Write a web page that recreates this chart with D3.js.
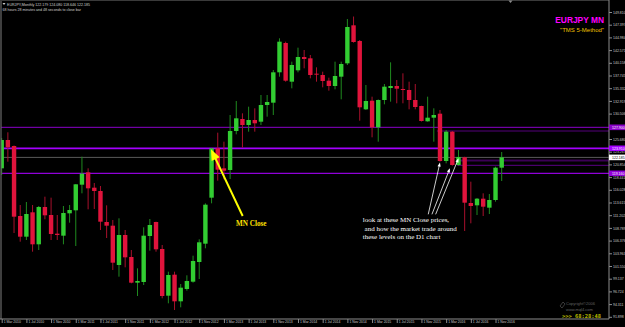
<!DOCTYPE html>
<html><head><meta charset="utf-8">
<script src="https://cdn.jsdelivr.net/npm/d3@7"></script>
<style>html,body{margin:0;padding:0;background:#000;overflow:hidden}svg{display:block}</style>
</head><body>
<svg id="c" width="625" height="327"></svg>
<script>
// ---------------- DATA ----------------
const months = d3.utcMonths(new Date(Date.UTC(2010,2,1)), new Date(Date.UTC(2017,0,1)));
const monthKeys = months.map(d => d3.utcFormat("%b %Y")(d));

const open = [120.11,125.49,124.35,111.05,107.12,111.75,105.67,112.76,111.24,107.69,
107.31,111.56,112.13,117.00,119.35,116.43,115.80,109.91,109.21,101.74,
107.44,103.26,98.38,98.51,107.25,109.91,104.78,95.91,99.90,94.84,
97.18,98.57,102.31,105.79,114.53,123.91,120.11,119.79,127.20,129.48,
128.34,129.29,128.97,132.14,132.58,138.35,143.92,136.57,138.73,141.26,
141.01,138.09,137.84,136.76,135.75,137.52,140.06,147.28,144.30,131.32,
132.96,127.90,133.09,135.37,135.75,135.18,134.99,133.09,131.95,129.04,
129.73,130.49,121.50,127.07,120.74,122.20,113.52,113.08,114.34,112.63,
114.09,120.23];
const high = [125.87,126.95,124.45,113.14,113.71,113.14,112.95,114.72,114.53,111.24,
112.95,113.14,117.13,122.32,120.11,117.32,116.75,113.08,110.29,110.61,
108.39,104.59,101.11,108.90,110.48,109.97,105.54,100.47,100.47,98.13,
99.78,103.51,106.62,113.46,123.97,126.88,125.17,130.24,132.90,130.56,
131.82,131.51,134.04,134.04,138.79,144.81,144.17,140.37,143.03,142.59,
141.64,139.30,138.47,137.33,140.37,140.37,148.48,148.95,144.49,135.94,
133.72,133.20,136.13,140.25,136.89,138.16,136.57,136.13,132.00,133.72,
131.51,131.19,127.39,127.20,123.59,122.30,117.57,114.47,115.36,115.23,
120.42,123.21];
const low = [118.84,121.37,107.82,106.17,106.49,104.27,104.59,110.42,106.49,106.49,
105.67,109.78,105.35,115.36,112.32,112.38,108.39,106.87,100.79,99.52,
101.30,98.26,95.85,97.94,104.46,104.27,95.41,94.46,93.19,93.70,
96.86,98.38,99.08,104.91,113.46,117.76,118.02,118.08,126.57,124.03,
127.07,127.07,128.34,129.92,130.24,137.52,136.57,135.31,138.35,139.11,
137.21,136.57,135.50,134.86,135.12,133.22,139.74,143.98,129.16,131.20,
126.00,125.17,132.27,132.77,132.46,132.46,131.32,131.32,129.00,128.97,
125.17,121.37,121.06,120.61,120.60,108.20,109.66,111.24,111.05,111.43,
113.77,117.70];
const close = [125.49,124.10,110.92,107.12,111.43,105.67,112.76,111.18,107.63,107.44,
111.62,112.19,117.07,119.09,116.31,115.80,109.97,109.21,102.18,107.44,
103.20,98.38,98.70,107.31,109.34,104.72,95.85,99.84,94.84,97.43,
98.70,102.50,106.05,113.20,123.91,119.85,119.66,127.20,129.61,128.34,
129.29,128.66,132.14,132.71,138.35,144.17,136.76,139.74,141.26,140.88,
137.84,137.90,136.70,135.75,137.65,139.93,146.96,144.11,131.70,132.90,
127.90,133.09,135.62,135.75,135.24,135.05,133.09,131.76,129.10,129.73,
130.24,121.50,127.07,120.74,122.26,113.58,112.95,114.34,112.82,114.09,
120.23,122.19];

const priceTicks = [149.810,147.397,144.984,142.571,140.158,137.745,135.332,132.919,130.506,128.093,
125.680,123.267,120.854,118.441,116.028,113.615,111.202,108.789,106.376,103.963,
101.550,99.137,96.724,94.311,91.898];
const dateTicks = monthKeys.filter((d,i) => i % 4 === 0);

const levelValues = [127.900, 123.910, 119.160];      // MN close levels (purple)
const bidPrice = 122.185;                              // current price line
const shortLevels = [127.200, 121.590, 120.680];
const shortLevelStart = [70.5, 73.8, 73.8];            // month index where they start

const headerLine1 = "EURJPY,Monthly  122.179 124.080 118.646 122.185";
const headerLine2 = "68 hours 28 minutes and 48 seconds to close bar";
const noteLines = ["look at these MN Close prices,", " and how the market trade around", "these levels on the D1 chart"];

// ---------------- CHART ----------------
const W = 625, H = 327, plotR = 609, plotB = 319;
const svg = d3.select("#c");
svg.append("rect").attr("width", W).attr("height", H).attr("fill", "#000");

const x = d3.scalePoint().domain(monthKeys).range([1.7, 501.7]);
const xi = d3.scaleLinear().domain([0, monthKeys.length - 1]).range([1.7, 501.7]);
const y = d3.scaleLinear().domain([91.48, 152.09]).range([plotB, 0]);

const candles = monthKeys.map((k, i) => ({k, o: open[i], h: high[i], l: low[i], c: close[i]}));

const clip = svg.append("clipPath").attr("id", "pc").append("rect")
  .attr("x", 1).attr("y", 1).attr("width", plotR - 1).attr("height", plotB - 1);

const plot = svg.append("g").attr("clip-path", "url(#pc)");

// horizontal levels
plot.append("line").attr("x1", 0).attr("x2", plotR)
  .attr("y1", y(bidPrice)).attr("y2", y(bidPrice))
  .attr("stroke", "#5a5a5a").attr("stroke-width", 1);

const shortCols = ["#55007a", "#3a0055", "#5a0085"];
const shortW = [1, 2, 1];
shortLevels.forEach((v, i) => {
  plot.append("line").attr("x1", xi(shortLevelStart[i])).attr("x2", plotR)
    .attr("y1", y(v)).attr("y2", y(v))
    .attr("stroke", shortCols[i]).attr("stroke-width", shortW[i]);
});

const levelCols = ["#8a00c8", "#a400ff", "#9000d8"];
const levelW = [1, 1.8, 1.2];
levelValues.forEach((v, i) => {
  plot.append("line").attr("x1", 0).attr("x2", plotR)
    .attr("y1", y(v)).attr("y2", y(v))
    .attr("stroke", levelCols[i]).attr("stroke-width", levelW[i]);
});

// candles
const bw = 4.4;
const cg = plot.append("g");
cg.selectAll("line.w").data(candles).join("line").attr("class", "w")
  .attr("x1", d => x(d.k)).attr("x2", d => x(d.k))
  .attr("y1", d => y(d.h)).attr("y2", d => y(d.l))
  .attr("stroke", d => d.c >= d.o ? "#1f8a1f" : "#a8102c").attr("stroke-width", 1);
cg.selectAll("rect.b").data(candles).join("rect").attr("class", "b")
  .attr("x", d => x(d.k) - bw / 2).attr("width", bw)
  .attr("y", d => y(Math.max(d.o, d.c)))
  .attr("height", d => Math.max(1, Math.abs(y(d.o) - y(d.c))))
  .attr("fill", d => d.c >= d.o ? "#32cd32" : "#e0143c");

// frame
svg.append("line").attr("x1", 1).attr("x2", 1).attr("y1", 0).attr("y2", plotB).attr("stroke", "#6a6a6a").attr("stroke-width", 1.2);
svg.append("line").attr("x1", 0).attr("x2", plotR).attr("y1", 0.5).attr("y2", 0.5).attr("stroke", "#3a3a3a").attr("stroke-width", 1);

// price axis
const ya = svg.append("g").attr("transform", `translate(${plotR},0)`)
  .call(d3.axisRight(y).tickValues(priceTicks).tickSize(3).tickPadding(1).tickFormat(d3.format(".3f")));
ya.select(".domain").attr("stroke", "#8c8c8c").attr("d", `M0,0V${plotB}`);
ya.selectAll(".tick line").attr("stroke", "#8c8c8c");
ya.selectAll(".tick text").attr("fill", "#c8c8c8").attr("font-size", 3.5)
  .attr("font-family", "Liberation Sans, Arial, sans-serif");

// level labels on axis
function axisLabel(v, bg, fg) {
  const g = svg.append("g").attr("transform", `translate(${plotR},${y(v)})`);
  g.append("rect").attr("x", 0).attr("y", -2.8).attr("width", 16).attr("height", 5.6).attr("fill", bg);
  g.append("text").attr("x", 3).attr("y", 1.3).attr("fill", fg).attr("font-size", 3.5)
    .attr("font-family", "Liberation Sans, Arial, sans-serif").text(d3.format(".3f")(v));
}
levelValues.forEach((v, i) => axisLabel(v, levelCols[i], "#ffffff"));
axisLabel(bidPrice, "#ffffff", "#000000");

// date axis
const xa = svg.append("g").attr("transform", `translate(0,${plotB})`)
  .call(d3.axisBottom(x).tickValues(dateTicks).tickSize(4).tickFormat(k => "1 " + k));
xa.select(".domain").attr("stroke", "#8c8c8c").attr("d", `M0,0H${plotR}`);
xa.selectAll(".tick line").attr("stroke", "#8c8c8c");
xa.selectAll(".tick text").attr("fill", "#c8c8c8").attr("font-size", 3.4)
  .attr("font-family", "Liberation Sans, Arial, sans-serif")
  .attr("text-anchor", "start").attr("x", 1.5).attr("y", 1.6).attr("dy", "0.71em");

// header
const hf = "Liberation Sans, Arial, sans-serif";
svg.append("path").attr("d", "M2.5,3 L5.5,3 L4,5 Z").attr("fill", "#c8c8c8");
svg.append("text").attr("x", 7).attr("y", 5.6).attr("fill", "#d0d0d0").attr("font-size", 3.6).attr("font-family", hf).text(headerLine1);
svg.append("text").attr("x", 2.5).attr("y", 10.6).attr("fill", "#d0d0d0").attr("font-size", 3.6).attr("font-family", hf).text(headerLine2);
svg.append("path").attr("d", "M508.5,0.5 L512.5,0.5 L510.5,3 Z").attr("fill", "#8c8c8c");

// title
svg.append("text").attr("x", 604).attr("y", 23.3).attr("text-anchor", "end").attr("fill", "#ff00ff")
  .attr("font-size", 8.4).attr("font-weight", "bold").attr("font-family", hf).text("EURJPY MN");
svg.append("text").attr("x", 604).attr("y", 32).attr("text-anchor", "end").attr("fill", "#f0c000")
  .attr("font-size", 6).attr("font-family", hf).text("\"TMS 5-Method\"");

// yellow arrow annotation
function arrow(x1, y1, x2, y2, color, w, hl, hw) {
  const dx = x2 - x1, dy = y2 - y1, L = Math.hypot(dx, dy), ux = dx / L, uy = dy / L;
  const bx = x2 - ux * hl, by = y2 - uy * hl;
  svg.append("line").attr("x1", x1).attr("y1", y1).attr("x2", bx + ux * 1).attr("y2", by + uy * 1)
    .attr("stroke", color).attr("stroke-width", w);
  svg.append("path").attr("d", `M${x2},${y2}L${bx - uy * hw},${by + ux * hw}L${bx + uy * hw},${by - ux * hw}Z`).attr("fill", color);
}
arrow(xi(39.04), y(111.05), xi(33.9), y(123.75), "#ffff00", 2, 11, 4.5);
svg.append("text").attr("x", xi(37.95)).attr("y", y(109.2)).attr("fill", "#ffe000")
  .attr("font-size", 7.2).attr("font-weight", "bold").attr("font-family", "Liberation Serif, Times New Roman, serif").text("MN Close");

// white arrows annotation
const tails = [[69.1, 111.37], [69.7, 111.37], [70.3, 111.37]];
const tips = [[71.0, 121.2], [72.6, 120.1], [74.0, 122.0]];
tails.forEach((t, i) => arrow(xi(t[0]), y(t[1]), xi(tips[i][0]), y(tips[i][1]), "#ffffff", 0.8, 4, 1.6));
noteLines.forEach((s, i) => {
  svg.append("text").attr("x", xi(58.5)).attr("y", 222.3 + i * 8.3).attr("fill", "#ffffff")
    .attr("font-size", 7).attr("font-family", "Liberation Serif, Times New Roman, serif")
    .attr("xml:space", "preserve").style("white-space", "pre").text(s);
});

// copyright + timer
svg.append("text").attr("x", 566).attr("y", 304.5).attr("fill", "#606060").attr("font-size", 4).attr("font-family", hf).text("Copyright©2006");
svg.append("text").attr("x", 566).attr("y", 310.5).attr("fill", "#606060").attr("font-size", 4).attr("font-family", hf).text("www.mql4.com");
svg.append("path").attr("d", "M560,306 l3,-4 l2,2 l-3,4 z").attr("fill", "none").attr("stroke", "#606060").attr("stroke-width", 0.6);
svg.append("text").attr("x", 562).attr("y", 317.5).attr("fill", "#b8b800").attr("font-size", 5.4).attr("font-weight", "bold")
  .attr("font-family", "DejaVu Sans Mono, monospace").text(">>> 68:28:48");
</script>
</body></html>
